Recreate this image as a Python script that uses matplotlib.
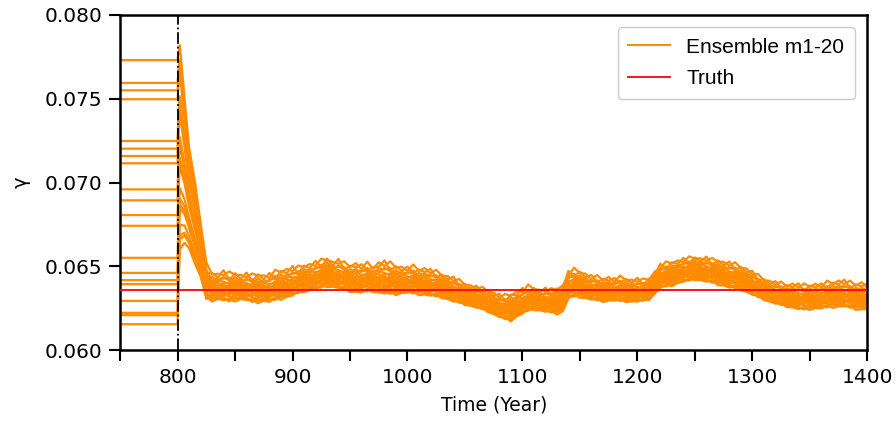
import numpy as np
import matplotlib
matplotlib.use("Agg")
import matplotlib.pyplot as plt
from matplotlib.ticker import MultipleLocator, FormatStrFormatter
from matplotlib.lines import Line2D

# initial gamma of each member (held constant before year 800)
init_gamma = [0.07730, 0.07594, 0.07550, 0.07497, 0.07248, 0.07202, 0.07158, 0.07115,
              0.06959, 0.06894, 0.06806, 0.06742, 0.06551, 0.06461, 0.06418, 0.06394,
              0.06294, 0.06223, 0.06209, 0.06155]
truth_gamma = 0.06362
spinup_years = [750, 800]

# spike right after assimilation starts: envelope of the ensemble
spike_years = [801, 802, 806, 810, 815, 820]
spike_upper = [0.0778, 0.0782, 0.0751, 0.0721, 0.0701, 0.0676]
spike_lower = [0.0640, 0.0660, 0.0664, 0.0661, 0.0652, 0.0644]
spike_frac = [1.00, 0.93, 0.90, 0.86, 0.75, 0.72, 0.69, 0.66, 0.55, 0.51,
              0.45, 0.41, 0.30, 0.25, 0.22, 0.20, 0.12, 0.07, 0.05, 0.00]

# envelope of the ensemble afterwards, read every 5 years (825 ... 1400)
years = list(range(825, 1401, 5))
upper = [0.06525, 0.06480, 0.06470, 0.06485, 0.06470, 0.06478, 0.06462, 0.06470, 0.06458, 0.06472,
         0.06460, 0.06468, 0.06480, 0.06492, 0.06500, 0.06510, 0.06505, 0.06522, 0.06528, 0.06540,
         0.06545, 0.06565, 0.06540, 0.06552, 0.06530, 0.06522, 0.06535, 0.06520, 0.06528, 0.06510,
         0.06540, 0.06545, 0.06530, 0.06520, 0.06512, 0.06505, 0.06512, 0.06498, 0.06505, 0.06492,
         0.06480, 0.06466, 0.06455, 0.06445, 0.06425, 0.06410, 0.06398, 0.06390, 0.06378, 0.06372,
         0.06355, 0.06342, 0.06335, 0.06350, 0.06365, 0.06378, 0.06392, 0.06385, 0.06372, 0.06380,
         0.06370, 0.06385, 0.06400, 0.06480, 0.06492, 0.06485, 0.06470, 0.06455, 0.06448, 0.06440,
         0.06450, 0.06436, 0.06445, 0.06440, 0.06432, 0.06438, 0.06428, 0.06440, 0.06480, 0.06522,
         0.06530, 0.06540, 0.06548, 0.06556, 0.06560, 0.06568, 0.06560, 0.06565, 0.06550, 0.06552,
         0.06540, 0.06536, 0.06525, 0.06512, 0.06500, 0.06480, 0.06455, 0.06438, 0.06425, 0.06418,
         0.06410, 0.06402, 0.06410, 0.06405, 0.06398, 0.06402, 0.06410, 0.06405, 0.06415, 0.06420,
         0.06430, 0.06428, 0.06415, 0.06410, 0.06420, 0.06405]
lower = [0.06299, 0.06290, 0.06300, 0.06295, 0.06285, 0.06290, 0.06300, 0.06295, 0.06282, 0.06280,
         0.06288, 0.06285, 0.06295, 0.06300, 0.06312, 0.06322, 0.06335, 0.06346, 0.06352, 0.06358,
         0.06368, 0.06376, 0.06372, 0.06368, 0.06355, 0.06346, 0.06342, 0.06340, 0.06345, 0.06346,
         0.06338, 0.06334, 0.06330, 0.06328, 0.06335, 0.06340, 0.06332, 0.06328, 0.06325, 0.06322,
         0.06315, 0.06310, 0.06300, 0.06287, 0.06278, 0.06269, 0.06260, 0.06251, 0.06240, 0.06227,
         0.06210, 0.06195, 0.06180, 0.06172, 0.06195, 0.06215, 0.06230, 0.06239, 0.06232, 0.06227,
         0.06220, 0.06212, 0.06225, 0.06305, 0.06315, 0.06312, 0.06305, 0.06299, 0.06292, 0.06287,
         0.06290, 0.06293, 0.06288, 0.06287, 0.06285, 0.06287, 0.06290, 0.06299, 0.06330, 0.06368,
         0.06375, 0.06382, 0.06395, 0.06405, 0.06410, 0.06418, 0.06412, 0.06406, 0.06398, 0.06388,
         0.06380, 0.06370, 0.06365, 0.06358, 0.06342, 0.06328, 0.06312, 0.06299, 0.06285, 0.06275,
         0.06265, 0.06257, 0.06250, 0.06242, 0.06238, 0.06240, 0.06245, 0.06245, 0.06250, 0.06252,
         0.06255, 0.06258, 0.06248, 0.06240, 0.06238, 0.06240]

# where each member sits inside the envelope (cycled over the 5-year points)
frac_sets = [
    [1.00, 0.72, 0.80, 0.58, 0.70, 0.52, 0.63, 0.41, 0.55, 0.38, 0.50, 0.30, 0.45, 0.22, 0.35, 0.28, 0.12, 0.20, 0.03, 0.10],
    [0.85, 0.90, 0.65, 0.78, 0.55, 0.68, 0.47, 0.60, 0.36, 0.52, 0.30, 0.46, 0.25, 0.40, 0.18, 0.33, 0.22, 0.08, 0.15, 0.00],
    [0.92, 0.78, 0.74, 0.66, 0.62, 0.58, 0.50, 0.48, 0.44, 0.42, 0.38, 0.35, 0.32, 0.28, 0.26, 0.20, 0.16, 0.12, 0.06, 0.04],
    [0.80, 0.96, 0.70, 0.60, 0.75, 0.45, 0.56, 0.52, 0.40, 0.34, 0.46, 0.24, 0.38, 0.30, 0.14, 0.22, 0.05, 0.18, 0.10, 0.02],
]

ens_color = "#ff8c00"

fig = plt.figure(figsize=(8.96, 4.25), dpi=100)
ax = fig.add_axes([0.134, 0.176, 0.834, 0.789])

up = np.array(upper)
lo = np.array(lower)
s_up = np.array(spike_upper)
s_lo = np.array(spike_lower)
for k, g0 in enumerate(init_gamma):
    f_main = np.array([frac_sets[j % 4][k] for j in range(len(years))])
    x = spinup_years + spike_years + years
    y = [g0, g0] + list(s_lo + spike_frac[k] * (s_up - s_lo)) + list(lo + f_main * (up - lo))
    ax.plot(x, y, color=ens_color, lw=1.6, zorder=2)

ax.axhline(truth_gamma, color="red", lw=1.3, zorder=3)
ax.axvline(800, color="black", lw=1.3, ls="-.", zorder=4)

ax.set_xlim(750, 1400)
ax.set_ylim(0.060, 0.080)
ax.xaxis.set_major_locator(MultipleLocator(100))
ax.xaxis.set_minor_locator(MultipleLocator(50))
ax.yaxis.set_major_locator(MultipleLocator(0.005))
ax.yaxis.set_major_formatter(FormatStrFormatter("%.3f"))
ax.tick_params(which="both", direction="out", length=8, width=1.5, labelsize=14.5, pad=5)
for sp in ax.spines.values():
    sp.set_linewidth(1.8)

ax.set_xlabel("Time (Year)", fontsize=13.5, labelpad=6)
ax.set_ylabel("γ", fontsize=14, labelpad=10)

handles = [Line2D([], [], color=ens_color, lw=1.5), Line2D([], [], color="red", lw=1.3)]
leg = ax.legend(handles, ["Ensemble m1-20", "Truth"], loc="upper right",
                prop=dict(family="Liberation Sans", size=15), fancybox=True,
                framealpha=1, edgecolor="#cccccc", borderaxespad=0.6,
                labelspacing=0.6, borderpad=0.5)

fig.savefig("out.png", dpi=100)
